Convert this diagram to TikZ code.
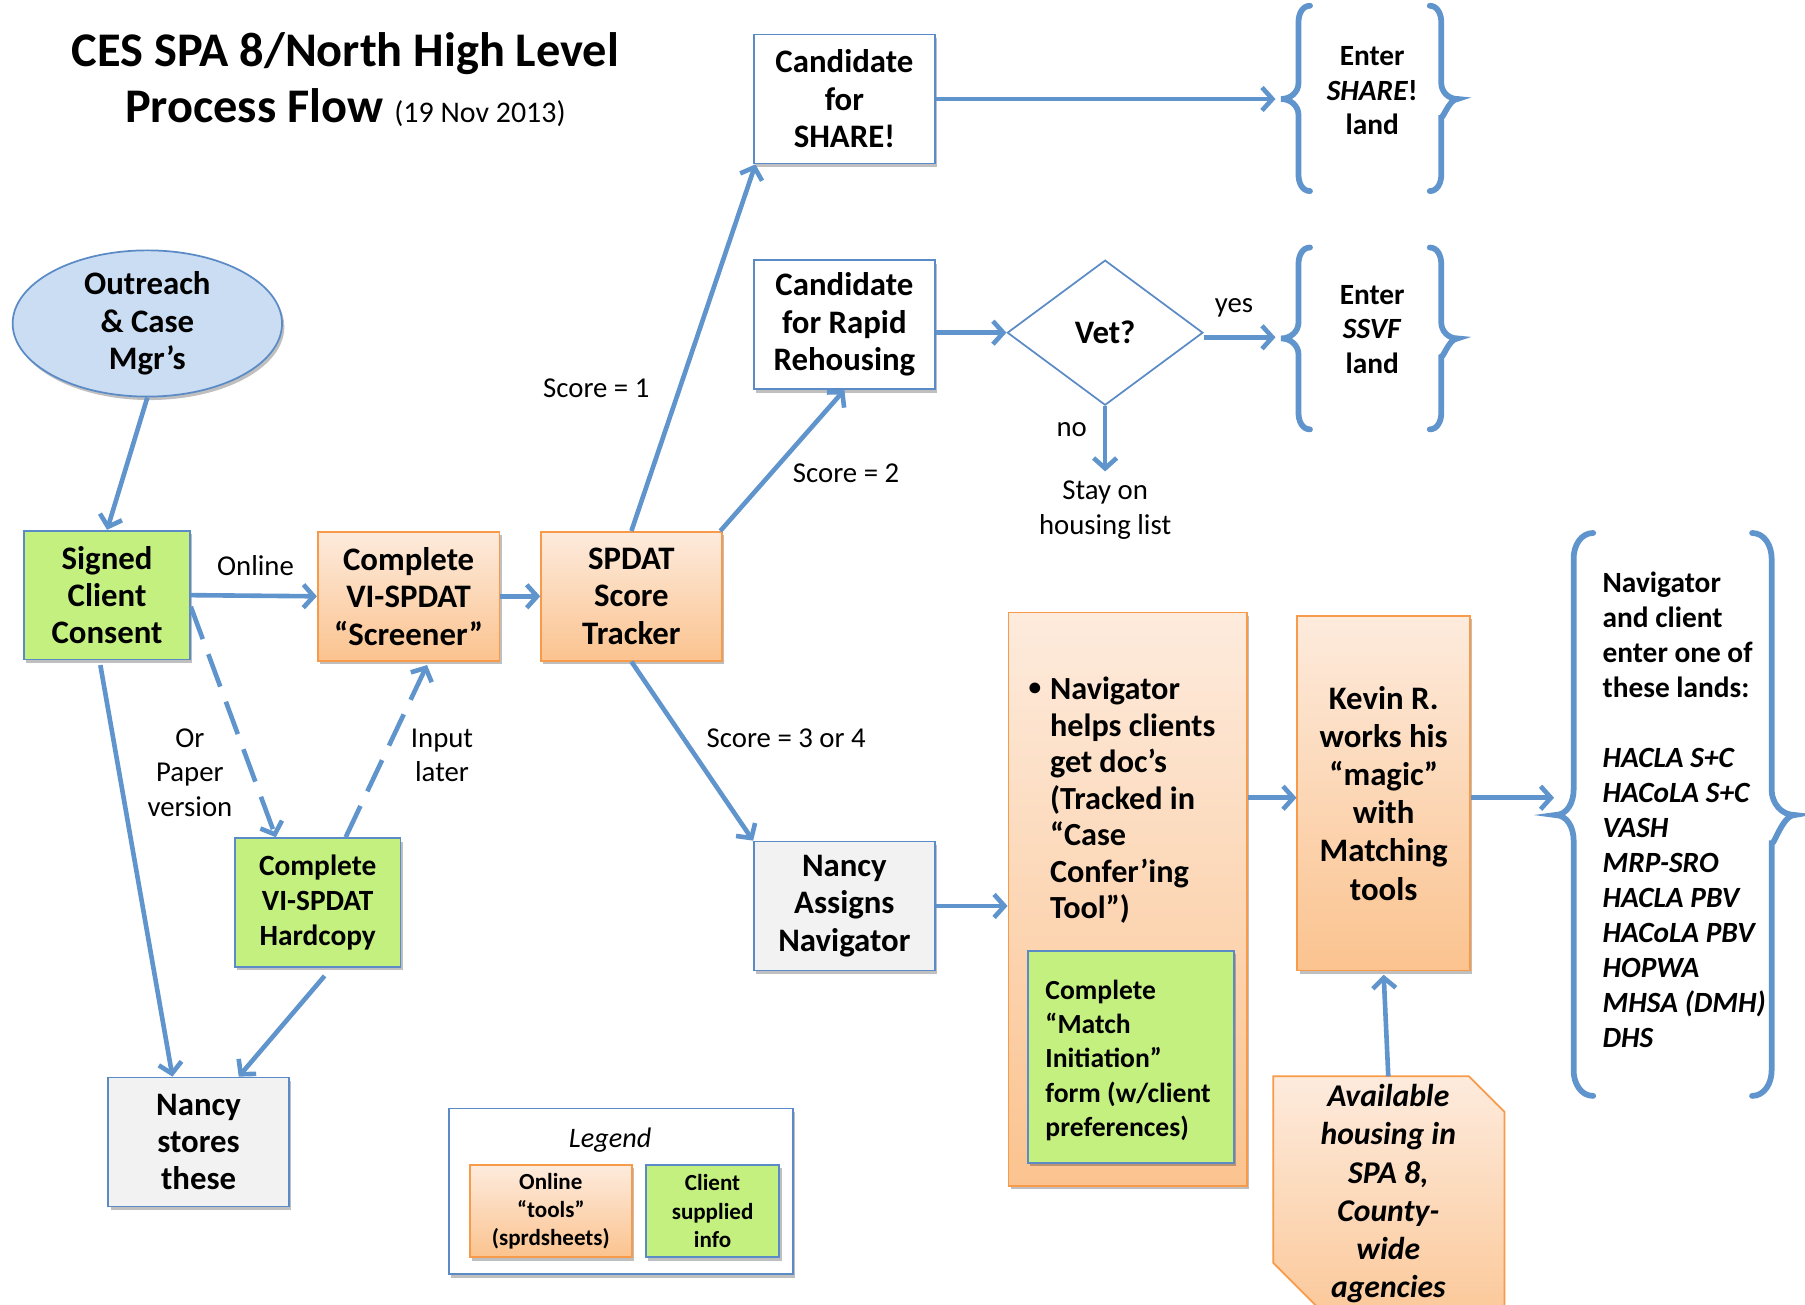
\documentclass[tikz,border=0pt]{standalone}
\usepackage{fontspec}
\setmainfont{Carlito}
\usetikzlibrary{arrows.meta,shapes.geometric,shadows,calc}

\definecolor{arrowblue}{HTML}{6094CC}
\definecolor{edgeblue}{HTML}{5B8BC6}
\definecolor{lightblue}{HTML}{CBDDF2}
\definecolor{greenfill}{HTML}{C4F080}
\definecolor{orangeedge}{HTML}{F79A4A}
\definecolor{orangetop}{HTML}{FDEBDD}
\definecolor{orangebot}{HTML}{FBC38F}
\definecolor{grayfill}{HTML}{F2F2F2}

\newcommand\mylbrace[7]{%
  \draw[bracestyle] (#1+#6,#3) to[out=180,in=90] (#1,#3+#7) -- (#1,#4-#7)
    to[out=-90,in=0] (#2,#4) to[out=0,in=90] (#1,#4+#7) -- (#1,#5-#7)
    to[out=-90,in=180] (#1+#6,#5);}
\newcommand\myrbrace[7]{%
  \draw[bracestyle] (#1-#6,#3) to[out=0,in=90] (#1,#3+#7) -- (#1,#4-#7)
    to[out=-90,in=180] (#2,#4) to[out=180,in=-90] (#1,#4+#7) -- (#1,#5-#7)
    to[out=-90,in=0] (#1-#6,#5);}

\tikzset{
  shad/.style={drop shadow={shadow xshift=2pt,shadow yshift=-3pt,opacity=0.25,fill=black}},
  boxtext/.style={font=\fontsize{28.5}{32.5}\selectfont\bfseries},
  box/.style={rectangle,draw=edgeblue,line width=1.5pt,inner sep=0pt,align=center,boxtext,shad},
  whitebox/.style={box,fill=white},
  graybox/.style={box,fill=grayfill},
  greenbox/.style={box,fill=greenfill},
  orangebox/.style={box,draw=orangeedge,top color=orangetop,bottom color=orangebot},
  lbl/.style={font=\fontsize{25}{30}\selectfont,align=center,inner sep=0pt},
  bracetext/.style={font=\fontsize{25.5}{30}\selectfont\bfseries,align=center,inner sep=0pt},
  flow/.style={draw=arrowblue,line width=4pt,-{Straight Barb[length=9pt,width=20pt]}},
  dflow/.style={flow,dash pattern=on 30pt off 14pt},
  bracestyle/.style={draw=arrowblue,line width=5pt,line cap=round},
}

\begin{document}
\begin{tikzpicture}[x=1pt,y=-1pt]
\useasboundingbox (0,0) rectangle (1568,1133);
\fill[white] (0,0) rectangle (1568,1133);

% title
\node[font=\fontsize{42}{49}\selectfont\bfseries,align=center,inner sep=0pt] (title) at (300,69)
  {CES SPA 8/North High Level\\Process Flow {\mdseries\fontsize{26}{49}\selectfont (19 Nov 2013)}};

% braces
\mylbrace{1128}{1113}{5}{86}{166}{10}{14}
\myrbrace{1252}{1266}{5}{86}{166}{10}{14}
\mylbrace{1128}{1113}{215}{294}{373}{10}{14}
\myrbrace{1252}{1266}{215}{294}{373}{10}{14}
\mylbrace{1367}{1351}{463}{708}{952}{17}{22}
\myrbrace{1539}{1559}{463}{708}{952}{17}{22}
\coordinate (b1tip) at (1108,86);
\coordinate (b2tip) at (1108,293);
\coordinate (b3tip) at (1350,693);

\node[bracetext] (share2) at (1192,79) {Enter\\\textit{SHARE}!\\land};
\node[bracetext] (ssvf) at (1192,286) {Enter\\\textit{SSVF}\\land};
\node[font=\fontsize{25.5}{30.4}\selectfont\bfseries,align=left,inner sep=0pt,anchor=north west] (lands) at (1392,497)
  {Navigator\\and client\\enter one of\\these lands:\\[30.4pt]
   \textit{HACLA S+C}\\\textit{HACoLA S+C}\\\textit{VASH}\\\textit{MRP-SRO}\\\textit{HACLA PBV}\\\textit{HACoLA PBV}\\\textit{HOPWA}\\\textit{MHSA (DMH)}\\\textit{DHS}};

% nodes
\node[whitebox,minimum width=157pt,minimum height=112pt] (share) at (733.5,86) {Candidate\\for\\SHARE!};
\node[whitebox,minimum width=157pt,minimum height=112pt] (rapid) at (733.5,282) {Candidate\\for Rapid\\Rehousing};
\node[diamond,draw=edgeblue,line width=1.5pt,fill=white,minimum width=170pt,minimum height=126pt,inner sep=0pt,boxtext] (vet) at (960,289) {Vet?};
\node[ellipse,draw=edgeblue,line width=1.5pt,fill=lightblue,minimum width=234pt,minimum height=116pt,inner sep=0pt,align=center,boxtext,shad] (outreach) at (128,281) {Outreach\\\& Case\\Mgr’s};
\node[greenbox,minimum width=144pt,minimum height=112pt] (signed) at (93,517) {Signed\\Client\\Consent};
\node[orangebox,minimum width=158pt,minimum height=112pt] (screener) at (355,518) {Complete\\VI-SPDAT\\“Screener”};
\node[orangebox,minimum width=157pt,minimum height=112pt] (tracker) at (548.5,518) {SPDAT\\Score\\Tracker};
\node[greenbox,minimum width=144pt,minimum height=112pt,font=\fontsize{25.5}{30.5}\selectfont\bfseries] (hardcopy) at (276,784) {Complete\\VI-SPDAT\\Hardcopy};
\node[graybox,minimum width=157pt,minimum height=112pt] (nstores) at (172.5,992) {Nancy\\stores\\these};
\node[graybox,minimum width=157pt,minimum height=112pt] (nassign) at (733.5,787) {Nancy\\Assigns\\Navigator};
\node[orangebox,minimum width=207pt,minimum height=498pt] (bigbox) at (979.5,781) {};
\node[greenbox,minimum width=179pt,minimum height=184pt] (innergreen) at (982.5,918) {};
\node[font=\fontsize{22}{30}\selectfont\bfseries,inner sep=0pt,anchor=base] (bullet) at (899,604) {•};
\node[align=left,inner sep=0pt,anchor=north west,font=\fontsize{28}{31.7}\selectfont\bfseries] (navtext) at (912,588)
  {Navigator\\helps clients\\get doc’s\\(Tracked in\\“Case\\Confer’ing\\Tool”)};
\node[align=left,inner sep=0pt,anchor=north west,font=\fontsize{24}{29.8}\selectfont\bfseries] (matchtext) at (908,851)
  {Complete\\“Match\\Initiation”\\form (w/client\\preferences)};
\node[orangebox,minimum width=150pt,minimum height=308pt,font=\fontsize{28.5}{33.2}\selectfont\bfseries] (kevin) at (1202,689)
  {Kevin R.\\works his\\“magic”\\with\\Matching\\tools};

% available housing
\filldraw[draw=orangeedge,line width=1.5pt,top color=orangetop,bottom color=orangebot]
  (1106,935) -- (1276,935) -- (1307,966) -- (1307,1175) -- (1184,1175) -- (1106,1097) -- cycle;
\node[font=\fontsize{27.5}{33.2}\selectfont\bfseries\itshape,align=center,inner sep=0pt] (avail) at (1206,1037)
  {Available\\housing in\\SPA 8,\\County-\\wide\\agencies};
\coordinate (availtop) at (1206,935);

% legend
\node[rectangle,draw=edgeblue,line width=1.5pt,fill=white,minimum width=299pt,minimum height=144pt,shad] (legend) at (539.5,1035) {};
\node[font=\fontsize{24.5}{28}\selectfont\itshape,inner sep=0pt] (legendt) at (530,990) {Legend};
\node[orangebox,minimum width=141pt,minimum height=80pt,font=\fontsize{20}{24.5}\selectfont\bfseries] (legor) at (478.5,1052) {Online\\“tools”\\(sprdsheets)};
\node[greenbox,minimum width=116pt,minimum height=80pt,font=\fontsize{20}{24.5}\selectfont\bfseries] (leggr) at (619,1052) {Client\\supplied\\info};

% labels
\node[lbl] (lonline) at (222,491) {Online};
\node[lbl] (ls1) at (518,337) {Score = 1};
\node[lbl] (ls2) at (735,411) {Score = 2};
\node[lbl] (ls3) at (683,641) {Score = 3 or 4};
\node[lbl] (lyes) at (1072,267) {yes};
\node[lbl] (lno) at (931,373) {no};
\node[lbl] (stay) at (960,443) {Stay on\\housing list};
\node[lbl] (lpaper) at (165,671) {Or\\Paper\\version};
\node[lbl] (linput) at (384,656) {Input\\later};

% connectors
\draw[flow] (share.east) -- (b1tip);
\draw[flow] (rapid.east |- vet.west) -- (vet.west);
\draw[flow] ([yshift=-4pt]vet.east) -- (b2tip);
\draw[flow] (vet.south) -- ([yshift=8pt]stay.north);
\draw[flow] (outreach.south) -- (signed.north);
\draw[flow] (signed.east) -- (screener.west);
\draw[flow] (screener.east) -- (tracker.west);
\draw[flow] (tracker.north) -- ([xshift=2pt]share.south west);
\draw[flow] ([xshift=-2pt]tracker.north east) -- (rapid.south);
\draw[flow] (tracker.south) -- (nassign.north west);
\draw[dflow] ([yshift=-10pt]signed.east) -- ($(hardcopy.north west)!0.25!(hardcopy.north east)$);
\draw[dflow] ($(hardcopy.north west)!0.667!(hardcopy.north east)$) -- ([yshift=-3pt]$(screener.south west)!0.6!(screener.south east)$);
\draw[flow] ([yshift=-4pt]$(signed.south west)!0.46!(signed.south east)$) -- ($(nstores.north west)!0.357!(nstores.north east)$);
\draw[flow] ([xshift=6pt,yshift=-7pt]hardcopy.south) -- ($(nstores.north west)!0.72!(nstores.north east)$);
\draw[flow] (nassign.east) -- (nassign.east -| bigbox.west);
\draw[flow] ([yshift=-4pt]bigbox.east |- kevin.west) -- ([yshift=-4pt]kevin.west);
\draw[flow] (kevin.east |- b3tip) -- (b3tip);
\draw[flow] (availtop) -- ([yshift=-3pt]kevin.south);
\end{tikzpicture}
\end{document}
